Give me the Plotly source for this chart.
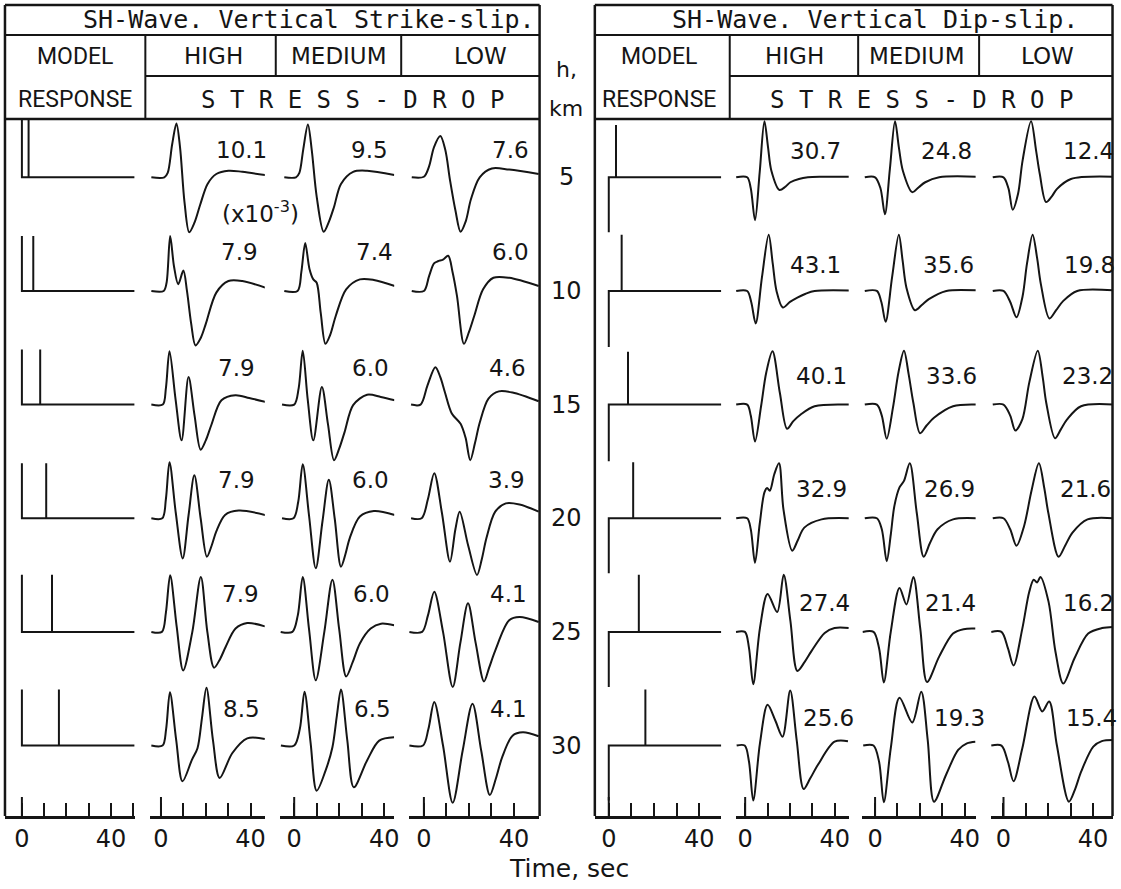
import plotly.graph_objects as go

W, H = 1121, 889
INK = "#151515"

# ---------------- data ----------------
DEPTHS = [5, 10, 15, 20, 25, 30]

# Model response (impulse delays in s, spike heights in normalised units)
SS_DELAY = [3.0, 5.1, 8.2, 10.9, 13.5, 16.6]
SS_SPIKE = [1.04, 1.0, 1.0, 1.0, 1.04, 1.02]
DS_DELAY = [3.2, 5.7, 8.5, 10.8, 13.3, 16.2]
DS_SPIKE = [0.95, 1.02, 0.96, 1.02, 1.04, 1.02]
DS_STEP = [-1.0, -1.02, -1.03, -1.0, -1.0, -1.0]

# Peak amplitude labels (x10^-3)
SS_HIGH_LBL = ["10.1", "7.9", "7.9", "7.9", "7.9", "8.5"]
SS_MED_LBL = ["9.5", "7.4", "6.0", "6.0", "6.0", "6.5"]
SS_LOW_LBL = ["7.6", "6.0", "4.6", "3.9", "4.1", "4.1"]
DS_HIGH_LBL = ["30.7", "43.1", "40.1", "32.9", "27.4", "25.6"]
DS_MED_LBL = ["24.8", "35.6", "33.6", "26.9", "21.4", "19.3"]
DS_LOW_LBL = ["12.4", "19.8", "23.2", "21.6", "16.2", "15.4"]

# Time axis ticks (s)
LABEL_TICKS = [0, 40]
MINOR_TICKS = [10, 20, 30]
MODEL_MINOR_TICKS = [10, 20, 30, 50]

# Waveforms: time (s) and normalised amplitude, one list per depth
SS_HIGH_T = [
    [-4.3, 1.5, 3.0, 5.0, 6.9, 8.5, 10.5, 12.6, 15.0, 17.5, 20.8, 24.7, 30.1, 36.3, 46.5],
    [-4.3, 1.2, 2.5, 4.1, 5.8, 7.7, 10.0, 11.6, 13.5, 15.4, 17.8, 20.0, 24.7, 30.1, 36.3, 46.5],
    [-4.3, 0.8, 2.2, 3.8, 6.5, 9.2, 12.3, 15.0, 17.7, 20.0, 22.4, 27.0, 33.2, 39.4, 46.5],
    [-4.3, 0.6, 2.2, 3.8, 6.6, 9.7, 12.3, 14.9, 17.7, 20.5, 22.6, 24.7, 28.6, 34.7, 46.5],
    [-4.3, 0.4, 2.2, 4.1, 7.0, 9.9, 14.0, 17.8, 20.7, 23.7, 26.3, 28.9, 33.3, 38.5, 46.4],
    [-4.3, 0.7, 2.3, 4.0, 6.8, 9.6, 13.8, 16.3, 18.3, 20.3, 23.2, 26.2, 31.8, 38.5, 46.4],
]
SS_HIGH_A = [
    [0, 0, 0.08, 0.6, 0.98, 0.55, -0.45, -1.0, -0.82, -0.5, -0.12, 0.06, 0.12, 0.1, 0.04],
    [0, 0, 0.15, 1.0, 0.45, 0.12, 0.37, 0.0, -0.6, -0.99, -0.85, -0.6, -0.03, 0.18, 0.18, 0.06],
    [0, 0, 0.3, 0.97, 0.1, -0.65, 0.5, -0.2, -0.82, -0.65, -0.38, 0.08, 0.17, 0.12, 0.05],
    [0, 0, 0.35, 1.02, 0.1, -0.73, 0.05, 0.78, 0.0, -0.7, -0.5, -0.24, 0.06, 0.14, 0.06],
    [0, 0, 0.35, 1.03, 0.1, -0.7, 0.0, 1.0, 0.0, -0.65, -0.5, -0.27, 0.06, 0.16, 0.1],
    [0, 0, 0.3, 0.97, 0.1, -0.65, -0.26, -0.05, 0.5, 1.05, 0.1, -0.59, -0.14, 0.13, 0.12],
]
SS_MED_T = [
    [-4.4, 0.8, 2.3, 4.0, 6.1, 7.8, 10.0, 13.1, 15.5, 17.7, 20.8, 26.2, 32.4, 44.5],
    [-4.4, 1.5, 3.2, 4.9, 6.8, 8.5, 10.0, 11.8, 13.9, 16.0, 18.5, 23.1, 29.2, 35.4, 44.7],
    [-5.4, 0.0, 2.0, 3.8, 6.0, 8.5, 12.3, 15.0, 17.7, 20.0, 22.4, 26.2, 32.4, 38.5, 44.7],
    [-5.4, -0.3, 1.8, 3.8, 6.6, 9.6, 12.6, 15.4, 18.0, 20.8, 22.8, 24.7, 29.2, 35.4, 44.7],
    [-6.0, -0.8, 1.6, 3.8, 6.6, 9.6, 13.4, 17.0, 20.0, 23.1, 26.0, 29.2, 34.0, 38.6, 44.4],
    [-5.9, 0.0, 2.5, 4.6, 7.3, 10.0, 13.9, 17.0, 19.0, 20.8, 23.6, 26.5, 32.4, 37.8, 44.4],
]
SS_MED_A = [
    [0, 0, 0.08, 0.5, 0.96, 0.5, -0.35, -0.99, -0.8, -0.54, -0.12, 0.1, 0.12, 0.04],
    [0, 0, 0.35, 0.87, 0.4, 0.21, 0.15, -0.4, -0.96, -0.8, -0.45, 0.03, 0.21, 0.2, 0.09],
    [0, 0, 0.3, 0.98, 0.1, -0.65, 0.32, -0.35, -1.01, -0.8, -0.5, -0.01, 0.18, 0.14, 0.08],
    [0, 0, 0.3, 0.98, 0.05, -0.91, -0.05, 0.7, 0.0, -0.88, -0.65, -0.36, 0.03, 0.13, 0.06],
    [0, 0, 0.3, 1.0, 0.05, -0.88, 0.0, 0.95, 0.05, -0.81, -0.55, -0.21, 0.06, 0.15, 0.12],
    [0, 0, 0.3, 0.98, 0.05, -0.82, -0.46, -0.03, 0.55, 1.02, 0.1, -0.76, -0.27, 0.09, 0.15],
]
SS_LOW_T = [
    [-5.4, 0.0, 2.3, 4.5, 7.3, 9.5, 11.6, 14.0, 16.3, 18.6, 20.9, 24.8, 30.2, 37.9, 51.0],
    [-5.4, 0.0, 2.3, 4.5, 6.2, 8.5, 10.8, 12.7, 14.7, 17.8, 20.0, 22.4, 26.3, 30.9, 37.9, 51.0],
    [-5.7, -1.5, 1.6, 5.1, 7.3, 9.3, 12.4, 16.3, 18.5, 20.6, 22.7, 24.8, 28.7, 33.3, 39.4, 51.0],
    [-5.7, -1.0, 1.8, 4.6, 8.0, 11.6, 14.0, 15.9, 19.7, 23.6, 25.7, 27.8, 31.7, 36.4, 42.5, 51.0],
    [-6.5, -0.8, 1.8, 4.6, 8.5, 12.8, 16.2, 19.6, 23.0, 26.7, 29.0, 31.7, 37.9, 42.5, 51.0],
    [-6.5, -0.4, 2.0, 4.6, 8.5, 12.8, 17.2, 21.6, 25.5, 29.3, 32.0, 34.8, 39.4, 44.0, 51.0],
]
SS_LOW_A = [
    [0, 0.01, 0.2, 0.55, 0.75, 0.5, -0.05, -0.6, -0.99, -0.8, -0.4, 0.0, 0.16, 0.14, 0.06],
    [0, 0, 0.27, 0.5, 0.54, 0.57, 0.64, 0.35, -0.09, -0.96, -0.75, -0.45, 0.03, 0.24, 0.24, 0.09],
    [0, 0, 0.35, 0.68, 0.5, 0.23, -0.16, -0.35, -0.6, -1.01, -0.7, -0.33, 0.11, 0.24, 0.22, 0.06],
    [0, 0, 0.35, 0.82, 0.1, -0.79, -0.2, 0.12, -0.5, -1.03, -0.75, -0.36, 0.12, 0.27, 0.25, 0.12],
    [0, 0, 0.3, 0.73, 0.0, -1.0, -0.2, 0.52, -0.2, -0.9, -0.65, -0.34, 0.21, 0.27, 0.18],
    [0, 0, 0.3, 0.79, 0.0, -1.04, -0.1, 0.76, -0.1, -0.9, -0.6, -0.21, 0.18, 0.24, 0.17],
]
DS_HIGH_T = [
    [-4.0, 0.9, 2.5, 4.4, 6.5, 8.6, 10.2, 11.7, 15.3, 18.0, 20.2, 24.0, 28.0, 34.1, 46.5],
    [-4.0, 0.9, 2.7, 4.7, 7.5, 10.5, 12.3, 14.0, 16.8, 20.0, 23.3, 27.0, 31.0, 46.5],
    [-4.0, 0.9, 2.5, 4.4, 7.1, 9.4, 12.2, 15.5, 18.7, 21.5, 24.8, 31.0, 46.5],
    [-4.0, 0.9, 2.5, 4.4, 6.5, 8.6, 9.8, 11.0, 13.0, 15.1, 17.1, 21.0, 23.5, 26.4, 34.1, 46.5],
    [-4.1, -0.1, 1.7, 3.6, 6.6, 10.0, 14.3, 17.2, 20.2, 23.3, 26.5, 29.6, 35.5, 39.9, 46.3],
    [-3.8, -0.2, 1.7, 3.6, 6.6, 10.0, 13.5, 16.7, 20.1, 23.0, 26.1, 29.0, 32.5, 39.9, 45.9],
]
DS_HIGH_A = [
    [0, 0, -0.2, -0.78, 0.1, 1.02, 0.55, 0.12, -0.23, -0.17, -0.09, -0.03, 0, 0.01, 0.01],
    [0, 0, -0.2, -0.59, 0.25, 1.02, 0.5, 0.0, -0.3, -0.2, -0.12, -0.05, 0, 0.01],
    [0, 0, -0.2, -0.67, -0.03, 0.58, 0.97, 0.21, -0.44, -0.3, -0.18, -0.03, 0],
    [0, 0, -0.2, -0.81, -0.1, 0.47, 0.55, 0.5, 0.8, 1.0, 0.16, -0.59, -0.4, -0.17, -0.02, 0],
    [0, 0, -0.29, -0.95, 0.07, 0.69, 0.36, 1.04, 0.2, -0.71, -0.55, -0.35, -0.02, 0.07, 0.07],
    [0, 0, -0.29, -1.0, 0.04, 0.74, 0.45, 0.16, 1.0, 0.1, -0.79, -0.6, -0.35, 0.07, 0.08],
]
DS_MED_T = [
    [-4.6, 0.0, 2.4, 4.4, 6.6, 8.9, 10.6, 12.4, 16.6, 19.5, 22.4, 28.6, 45.6],
    [-4.6, 0.8, 2.8, 4.7, 7.6, 10.6, 12.3, 14.0, 17.8, 21.0, 24.0, 31.8, 45.6],
    [-4.6, 0.8, 3.0, 5.2, 8.0, 10.5, 12.9, 15.0, 17.1, 20.1, 23.0, 26.3, 34.8, 45.6],
    [-4.6, 0.8, 3.0, 5.2, 7.0, 8.6, 10.9, 12.9, 15.5, 18.6, 21.7, 24.5, 27.9, 34.8, 45.6],
    [-5.6, -0.7, 1.8, 3.9, 7.0, 10.9, 14.0, 17.1, 20.2, 23.2, 28.6, 34.8, 39.5, 44.8],
    [-5.3, -0.7, 1.8, 3.9, 7.0, 10.9, 16.6, 20.6, 23.5, 26.3, 31.7, 37.1, 41.0, 44.8],
]
DS_MED_A = [
    [0, 0, -0.2, -0.67, 0.15, 1.02, 0.55, 0.12, -0.27, -0.18, -0.09, 0, 0.01],
    [0, 0, -0.2, -0.56, 0.25, 1.02, 0.55, 0.06, -0.35, -0.25, -0.15, 0, 0.01],
    [0, 0, -0.2, -0.62, -0.05, 0.6, 0.98, 0.55, 0.03, -0.52, -0.38, -0.24, -0.03, 0],
    [0, 0, -0.2, -0.78, -0.3, 0.22, 0.56, 0.68, 1.0, 0.1, -0.7, -0.45, -0.2, -0.02, 0],
    [0, 0, -0.3, -0.92, 0.0, 0.8, 0.5, 1.0, 0.05, -0.91, -0.45, -0.03, 0.05, 0.06],
    [0, 0, -0.3, -1.03, -0.05, 0.87, 0.42, 0.98, 0.1, -1.02, -0.53, -0.08, 0.04, 0.07],
]
DS_LOW_T = [
    [-4.8, 0.0, 2.2, 4.1, 6.5, 8.5, 12.3, 14.5, 16.2, 19.0, 21.5, 23.9, 30.1, 49.5],
    [-4.8, 0.0, 3.0, 5.8, 8.5, 10.5, 13.0, 15.0, 16.7, 20.5, 23.5, 26.7, 32.9, 49.5],
    [-4.8, 0.0, 3.0, 5.3, 8.4, 11.5, 15.3, 17.5, 19.1, 23.0, 25.6, 28.4, 34.6, 49.5],
    [-4.8, 0.0, 3.0, 5.8, 9.2, 12.5, 15.8, 18.2, 20.0, 24.6, 27.5, 30.8, 37.5, 49.5],
    [-5.5, -0.9, 2.0, 4.5, 8.4, 11.5, 13.5, 15.0, 16.5, 20.1, 23.2, 26.7, 31.7, 37.8, 44.0, 49.9],
    [-5.5, -0.9, 2.0, 4.5, 8.4, 13.8, 17.3, 20.4, 23.8, 29.2, 31.9, 34.7, 40.1, 43.9, 49.8],
]
DS_LOW_A = [
    [0, 0, -0.2, -0.59, -0.3, 0.3, 1.02, 0.5, 0.06, -0.45, -0.35, -0.21, -0.03, 0.01],
    [0, 0, -0.2, -0.48, -0.1, 0.5, 1.02, 0.6, 0.12, -0.5, -0.35, -0.18, 0, 0.01],
    [0, 0, -0.2, -0.47, -0.27, 0.4, 0.98, 0.5, 0.03, -0.61, -0.45, -0.27, -0.03, 0],
    [0, 0, -0.2, -0.5, -0.14, 0.5, 1.0, 0.55, 0.1, -0.7, -0.5, -0.26, -0.02, 0],
    [0, 0, -0.3, -0.61, 0.06, 0.73, 0.95, 0.9, 1.0, 0.55, -0.36, -0.94, -0.48, -0.03, 0.07, 0.09],
    [0, 0, -0.3, -0.65, -0.05, 0.89, 0.62, 0.8, 0.01, -1.02, -0.8, -0.47, -0.02, 0.08, 0.1],
]

# ---------------- layout constants (pixels) ----------------
AXIS_Y = 816.0
HEAD_Y = 119.0
ROW0 = 177.3
ROW_STEP = 113.65
AMP = 55.0

def X(px):
    return px / W

def Y(py):
    return 1 - py / H

# columns: (t0 pixel, px per second, start pixel, end pixel, is model column)
COLS = [
    (22.0, 2.24, 5.0, 136.0, True),
    (161.7, 2.25, 151.0, 266.0, False),
    (295.5, 2.26, 281.0, 396.0, False),
    (425.8, 2.26, 411.0, 541.5, False),
    (611.5, 2.27, 597.5, 724.5, True),
    (748.5, 2.25, 739.0, 852.5, False),
    (879.0, 2.25, 866.3, 980.0, False),
    (1008.0, 2.25, 995.6, 1117.5, False),
]

LBL_DY_L = [27, 39, 37, 38, 37.7, 36.7]
LBL_DY_R = [26.6, 25.5, 28.5, 29.7, 29, 28]
SS_HIGH_LT = [36.1, 35.1, 33.9, 33.9, 35.6, 35.9]
SS_MED_LT = [33.3, 35.6, 34.1, 34.1, 34.3, 35.0]
SS_LOW_LT = [38.4, 38.4, 37.3, 36.8, 37.7, 37.7]
DS_HIGH_LT = [31.3, 31.6, 33.9, 34.3, 35.3, 37.0]
DS_MED_LT = [32.0, 32.7, 34.0, 33.1, 33.6, 37.8]
DS_LOW_LT = [37.8, 38.2, 37.3, 36.4, 38.0, 39.2]

SANS = "DejaVu Sans"
MONO = "DejaVu Sans Mono"
NARROW = "Roboto"

fig = go.Figure()
layout = dict(
    width=W, height=H, margin=dict(l=0, r=0, t=0, b=0),
    paper_bgcolor="white", plot_bgcolor="rgba(0,0,0,0)", showlegend=False,
)

shapes = []
annotations = []

def row_off(k):
    return -k * ROW_STEP

for i, (t0, pps, xs, xe, is_model) in enumerate(COLS, start=1):
    sx = "" if i == 1 else str(i)
    layout["xaxis" + sx] = dict(
        domain=[X(xs), X(xe)], range=[(xs - t0) / pps, (xe - t0) / pps],
        anchor="y" + sx, showgrid=False, zeroline=False,
        showline=True, linecolor=INK, linewidth=2.5,
        ticks="inside", ticklen=13, tickwidth=2, tickcolor=INK,
        tickmode="array", tickvals=LABEL_TICKS, ticktext=[str(v) for v in LABEL_TICKS],
        minor=dict(tickmode="array",
                   tickvals=MODEL_MINOR_TICKS if is_model else MINOR_TICKS,
                   ticks="inside", ticklen=13, tickwidth=2, tickcolor=INK, showgrid=False),
        tickfont=dict(family=SANS, size=24, color=INK), ticklabelstandoff=0,
        fixedrange=True,
    )
    layout["yaxis" + sx] = dict(
        domain=[Y(AXIS_Y), Y(HEAD_Y)],
        range=[-(AXIS_Y - ROW0), ROW0 - HEAD_Y],
        anchor="x" + sx, visible=False, fixedrange=True,
    )
    # longer tick at time zero
    shapes.append(dict(type="line", xref="x" + sx, yref="paper", x0=0, x1=0,
                       y0=Y(AXIS_Y), y1=Y(AXIS_Y - 19), line=dict(color=INK, width=2)))

def wave(ax, T, A, k):
    off = row_off(k)
    fig.add_trace(go.Scatter(
        x=T, y=[off + a * AMP for a in A], xaxis="x" + ax, yaxis="y" + ax,
        mode="lines", line=dict(color=INK, width=2, shape="spline", smoothing=0.9),
        hoverinfo="skip"))

# model responses
for k in range(6):
    off = row_off(k)
    end_l = (COLS[0][3] - 1 - COLS[0][0]) / COLS[0][1]
    td = SS_DELAY[k]
    h = SS_SPIKE[k] * AMP
    fig.add_trace(go.Scatter(
        x=[0, 0, td, td, td, end_l], y=[off + h, off, off, off + h, off, off],
        xaxis="x", yaxis="y", mode="lines", line=dict(color=INK, width=2), hoverinfo="skip"))
    end_r = (COLS[4][3] - COLS[4][0]) / COLS[4][1]
    td = DS_DELAY[k]
    fig.add_trace(go.Scatter(
        x=[0, 0, td, td, td, end_r],
        y=[off + DS_STEP[k] * AMP, off, off, off + DS_SPIKE[k] * AMP, off, off],
        xaxis="x5", yaxis="y5", mode="lines", line=dict(color=INK, width=2), hoverinfo="skip"))

groups = [
    ("2", SS_HIGH_T, SS_HIGH_A, SS_HIGH_LBL, SS_HIGH_LT, LBL_DY_L),
    ("3", SS_MED_T, SS_MED_A, SS_MED_LBL, SS_MED_LT, LBL_DY_L),
    ("4", SS_LOW_T, SS_LOW_A, SS_LOW_LBL, SS_LOW_LT, LBL_DY_L),
    ("6", DS_HIGH_T, DS_HIGH_A, DS_HIGH_LBL, DS_HIGH_LT, LBL_DY_R),
    ("7", DS_MED_T, DS_MED_A, DS_MED_LBL, DS_MED_LT, LBL_DY_R),
    ("8", DS_LOW_T, DS_LOW_A, DS_LOW_LBL, DS_LOW_LT, LBL_DY_R),
]
for ax, TT, AA, LB, LT, DY in groups:
    for k in range(6):
        wave(ax, TT[k], AA[k], k)
        annotations.append(dict(
            xref="x" + ax, yref="y" + ax, x=LT[k], y=row_off(k) + DY[k],
            text=LB[k], showarrow=False, xanchor="center", yanchor="middle",
            font=dict(family=SANS, size=23, color=INK)))

# depth labels
for k, d in enumerate(DEPTHS):
    annotations.append(dict(xref="paper", yref="y", x=X(569), y=row_off(k), text=str(d),
                            showarrow=False, xanchor="center", yanchor="middle",
                            font=dict(family=SANS, size=24, color=INK)))

def txt(x, y, s, size, fam=SANS):
    annotations.append(dict(xref="paper", yref="paper", x=X(x), y=Y(y), text=s,
                            showarrow=False, xanchor="center", yanchor="middle",
                            font=dict(family=fam, size=size, color=INK)))

txt(569, 70, "h,", 22)
txt(569, 109, "km", 22)
txt(261.5, 212, "(x10<sup>-3</sup>)", 23)
txt(572, 868, "Time, sec", 25)

# header tables
def line(x0, y0, x1, y1, w=2.5):
    shapes.append(dict(type="line", xref="paper", yref="paper", x0=X(x0), y0=Y(y0),
                       x1=X(x1), y1=Y(y1), line=dict(color=INK, width=w)))

for (L, R, s1, s2, s3, title, tx, mx, hx, mdx, lx, sx) in [
    (5, 542, 146, 277, 403, "SH-Wave. Vertical Strike-slip.", 310, 75, 214.5, 340.7, 483, 353.7),
    (597.5, 1117.5, 733, 862, 983.5, "SH-Wave. Vertical Dip-slip.", 879, 662, 798, 921, 1052, 926),
]:
    line(L, 5, R, 5)
    line(L, 5, L, AXIS_Y)
    line(R, 5, R, AXIS_Y)
    line(L, 35, R, 35, 2)
    line(s1, 76, R, 76, 2)
    line(L, HEAD_Y, R, HEAD_Y, 2.5)
    line(s1, 35, s1, HEAD_Y, 2)
    line(s2, 35, s2, 76, 2)
    line(s3, 35, s3, 76, 2)
    txt(tx, 19.5, title, 25, MONO)
    txt(mx, 56, "MODEL", 23, NARROW)
    txt(mx, 100, "RESPONSE", 23, NARROW)
    txt(hx, 56, "HIGH", 23)
    txt(mdx, 56, "MEDIUM", 23)
    txt(lx, 56, "LOW", 23)
    txt(sx, 100, "S T R E S S - D R O P", 24, MONO)

layout["shapes"] = shapes
layout["annotations"] = annotations
fig.update_layout(**layout)
fig.write_html(
    "out.html",
    config={"displayModeBar": False, "staticPlot": True},
    post_script="document.body.style.margin='0';document.body.style.padding='0';"
                "document.body.style.overflow='hidden';",
)
